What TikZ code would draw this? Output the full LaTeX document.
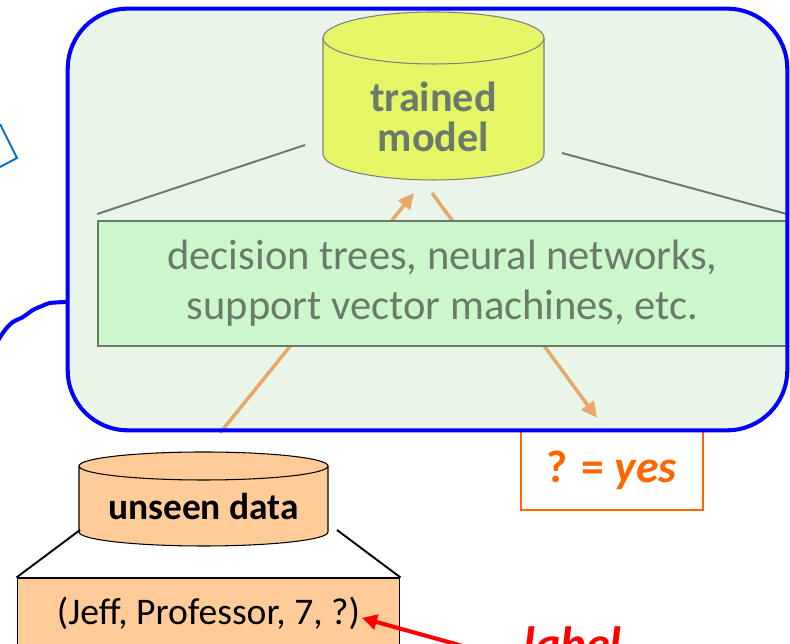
\documentclass[tikz,border=0pt]{standalone}
\usepackage{fontspec}
\setmainfont{Carlito}
\usepackage{xcolor}
\usepackage{tikz}
\usetikzlibrary{
    arrows.meta,
    positioning,
    calc
}
\definecolor{frameblue}{RGB}{0,0,255}
\definecolor{panelgreen}{RGB}{232,245,232}
\definecolor{boxgreen}{RGB}{204,247,204}
\definecolor{modelyellow}{RGB}{230,245,102}
\definecolor{textgray}{RGB}{107,122,107}
\definecolor{flowtan}{RGB}{232,168,106}
\definecolor{answerorange}{RGB}{255,102,0}
\definecolor{datapeach}{RGB}{255,204,153}
\definecolor{sketchblue}{RGB}{0,112,192}
\tikzset{
    panel/.style={
        fill=panelgreen,
        rounded corners=1.2cm,
        inner sep=0pt,
        minimum width=14.38cm,
        minimum height=8.42cm
    }
}
\tikzset{
    methods/.style={
        draw=textgray,
        line width=1.1pt,
        fill=boxgreen,
        text=textgray,
        align=center,
        inner sep=0pt,
        font=\fontsize{24.2}{28.5}\selectfont
    }
}
\tikzset{
    drum/.style={
        draw=black!50,
        line width=0.6pt
    }
}
\tikzset{
    zoomline/.style={
        draw=textgray,
        line width=1.1pt
    }
}
\tikzset{
    flow/.style={
        draw=flowtan,
        line width=2pt,
        -{Triangle[length=3.2mm,width=3mm]}
    }
}
\tikzset{
    answer/.style={
        draw=answerorange,
        line width=1.1pt,
        text=answerorange,
        inner sep=0pt,
        font=\fontsize{26}{28}\selectfont\bfseries
    }
}
\tikzset{
    record/.style={
        draw=black,
        line width=0.6pt,
        fill=datapeach,
        inner sep=0pt,
        font=\fontsize{21.4}{24}\selectfont
    }
}

\begin{document}
\begin{tikzpicture}[
    x=0.02cm,
    y=0.02cm,
    font=\fontsize{17}{20}\selectfont
]
\useasboundingbox (0,0) rectangle (790,644);

% =========================================================
% Learner panel
% =========================================================

\node[panel] (learner) at (427.5,424.5) {};

% fragments of the slide left of the panel
\draw[sketchblue, line width=1.1pt] (0,520) -- (17,486) -- (0,477);
\coordinate (tail) at (66,342);
\draw[frameblue, line width=2.3pt, line cap=round]
    plot[smooth] coordinates {(tail) (50,341) (42,338) (33,334) (23,327) (13,322) (5,314) (-3,302)};

% trained model
\filldraw[drum, fill=modelyellow] (323,606) -- (323,490)
    arc[start angle=180, end angle=360, x radius=110.5, y radius=26]
    -- (544,606)
    arc[start angle=0, end angle=180, x radius=110.5, y radius=26];
\draw[drum] (323,606) arc[start angle=180, end angle=360, x radius=110.5, y radius=26];
\node[
    text=textgray,
    align=center,
    font=\fontsize{24}{22.8}\selectfont\bfseries
] (model) at (433.5,527) {trained\\model};

% flow through the learner
\coordinate (query out) at (220,211);
\coordinate (model in) at (414,451);
\coordinate (model out) at (432,451);
\coordinate (answer in) at (597,226);
\draw[flow] (query out) -- (model in);
\draw[flow] (model out) -- (answer in);

\node[
    methods,
    minimum width=13.78cm,
    minimum height=2.5cm
] (methods) at (442.5,360.5) {decision trees, neural networks,\\support vector machines, etc.};

\draw[zoomline] (305,499) -- ($(methods.north west)+(0,6)$);
\draw[zoomline] (562,491) -- ($(methods.north east)+(-1,6)$);

\node[
    answer,
    minimum width=3.64cm,
    minimum height=1.6cm
] (answer) at (612,174) {? = \textit{yes}};

\draw[frameblue, line width=2.3pt, rounded corners=1.2cm]
    (learner.south west) rectangle (learner.north east);


% =========================================================
% Unseen data
% =========================================================

\filldraw[draw=black, line width=0.6pt, fill=datapeach] (79,178) -- (79,112)
    arc[start angle=180, end angle=360, x radius=124.5, y radius=14]
    -- (328,178)
    arc[start angle=0, end angle=180, x radius=124.5, y radius=14];
\draw[black, line width=0.6pt] (79,178) arc[start angle=180, end angle=360, x radius=124.5, y radius=14];
\node[font=\fontsize{21.3}{24}\selectfont\bfseries] (query) at (203.5,137) {unseen data};

\node[
    record,
    minimum width=7.66cm,
    minimum height=1.4cm
] (row) at (208.5,31) {(Jeff, Professor, 7, ?)};

\draw[black, line width=1.1pt] (80,114) -- (row.north west);
\draw[black, line width=1.1pt] (337,114) -- (row.north east);

% label pointer
\node[
    anchor=base west,
    inner sep=0pt,
    text=red,
    font=\fontsize{27.4}{30}\selectfont\bfseries\itshape
] (label) at (523,-17) {label};

\coordinate (row mark) at (362,26);
\coordinate (label foot) at (470,-4);
\draw[red, line width=2.3pt, -{Triangle[length=3mm,width=3mm]}] (label foot) -- (row mark);

\end{tikzpicture}
\end{document}
